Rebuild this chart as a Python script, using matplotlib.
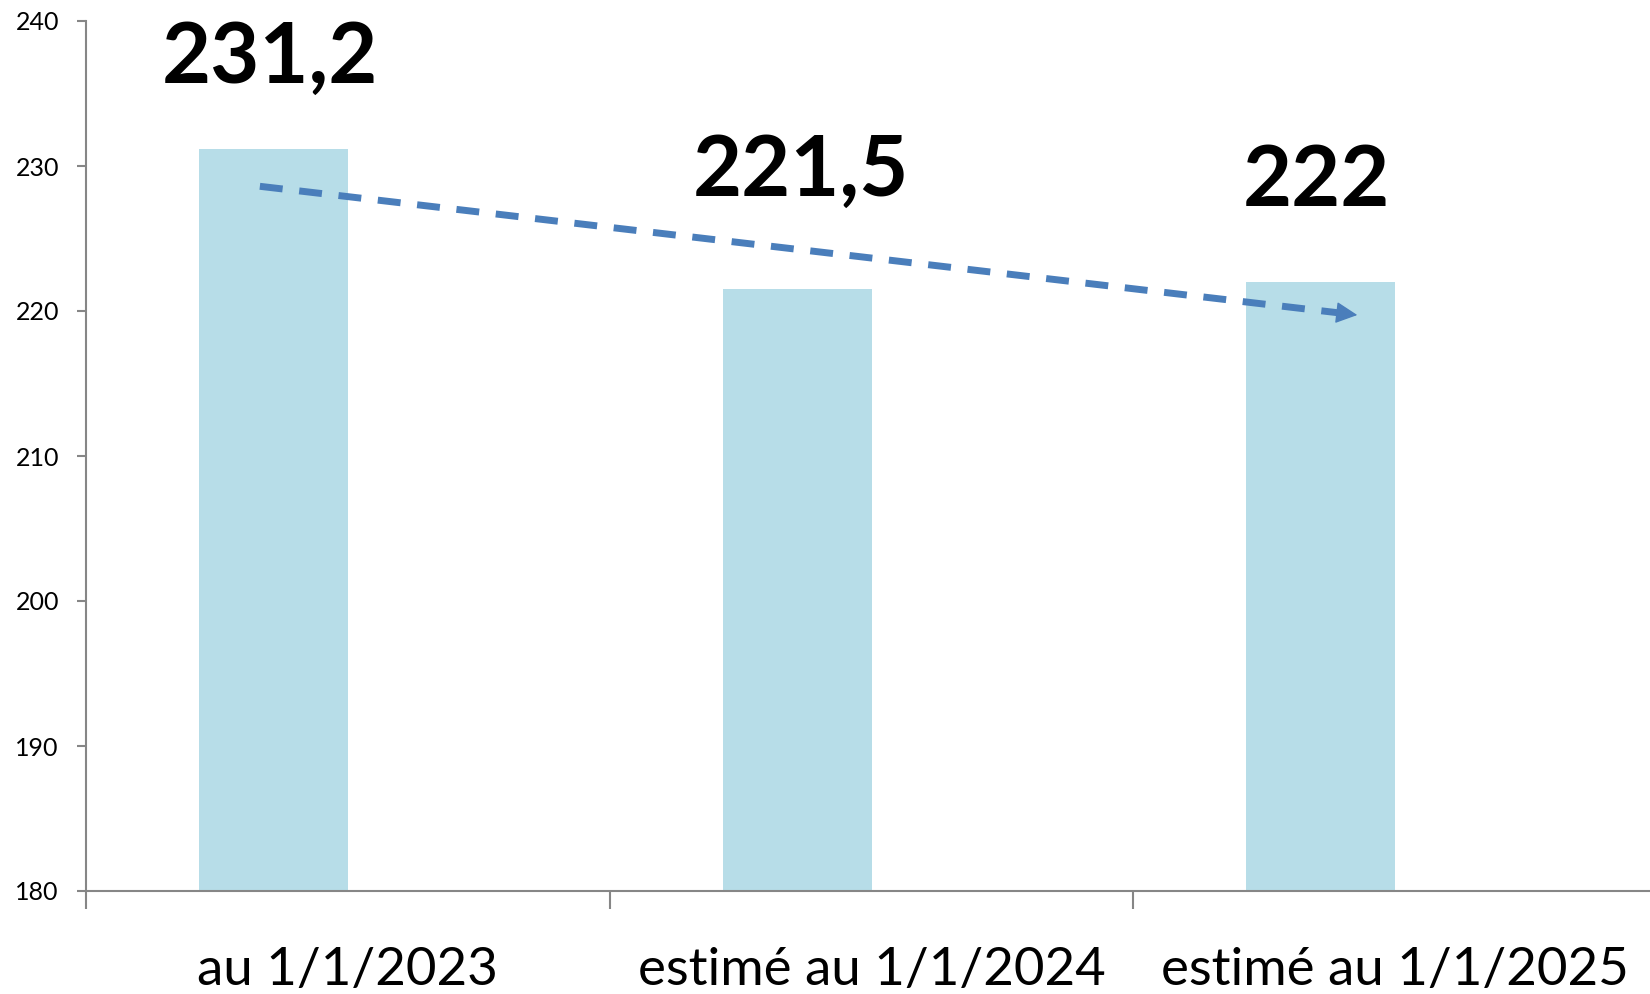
import numpy as np
import matplotlib
matplotlib.use("Agg")
import matplotlib.pyplot as plt

# ---- data ----
categories = ["au 1/1/2023", "estimé au 1/1/2024", "estimé au 1/1/2025"]
values = [231.2, 221.5, 222.0]
value_labels = ["231,2", "221,5", "222"]
yticks = [180, 190, 200, 210, 220, 230, 240]

# label placement (data coords, baseline)
label_x = [-0.148, 0.866, 1.849]
label_y = [235.72, 227.95, 227.25]

# trend arrow (data coords)
arrow_start = (-0.168, 228.6)
arrow_end = (1.933, 219.7)

bar_color = "#B7DDE8"
arrow_color = "#4A7EBB"
axis_color = "#868686"

plt.rcParams['font.family'] = ['Lato', 'DejaVu Sans']

fig = plt.figure(figsize=(16.5, 9.94), dpi=100)
ax = fig.add_axes([86/1650, 103/994, 1571/1650, 870/994])

width = 0.284
x = np.arange(len(categories))
ax.bar(x - width / 2, values, width=width, color=bar_color, zorder=2)

ax.set_xlim(-0.5, 2.5)
ax.set_ylim(180, 240)

# spines
for s in ["top", "right"]:
    ax.spines[s].set_visible(False)
for s in ["left", "bottom"]:
    ax.spines[s].set_color(axis_color)
    ax.spines[s].set_linewidth(1.5)

ax.set_yticks(yticks)
ax.set_yticklabels([str(v) for v in yticks])
ax.tick_params(axis="y", direction="out", length=6.5, width=1.5, color=axis_color,
               labelsize=18, pad=13, labelcolor="black")

ax.set_xticks([-0.5, 0.5, 1.5, 2.5])
ax.set_xticklabels([])
ax.set_xticks(x, minor=True)
ax.set_xticklabels(categories, minor=True)
ax.tick_params(axis="x", which="major", direction="out", length=13, width=1.5, color=axis_color)
ax.tick_params(axis="x", which="minor", length=0, labelsize=38, pad=40, labelcolor="black")

# value labels
for lx, ly, t in zip(label_x, label_y, value_labels):
    ax.text(lx, ly, t, ha="center", va="baseline", fontsize=61, fontweight="bold",
            color="black", zorder=4)

# dashed trend line + arrow head
ax.plot([arrow_start[0], arrow_end[0]], [arrow_start[1], arrow_end[1]],
        color=arrow_color, lw=5, linestyle=(0, (3.3, 2.4)), zorder=3,
        solid_capstyle="butt", dash_capstyle="butt")
dx = arrow_end[0] - arrow_start[0]
dy = arrow_end[1] - arrow_start[1]
ax.annotate("", xy=arrow_end, xytext=(arrow_end[0] - 0.02 * dx, arrow_end[1] - 0.02 * dy),
            arrowprops=dict(arrowstyle="-|>,head_length=0.8,head_width=0.4",
                            color=arrow_color, lw=1, mutation_scale=17),
            zorder=3)

fig.savefig("out.png", dpi=100)
